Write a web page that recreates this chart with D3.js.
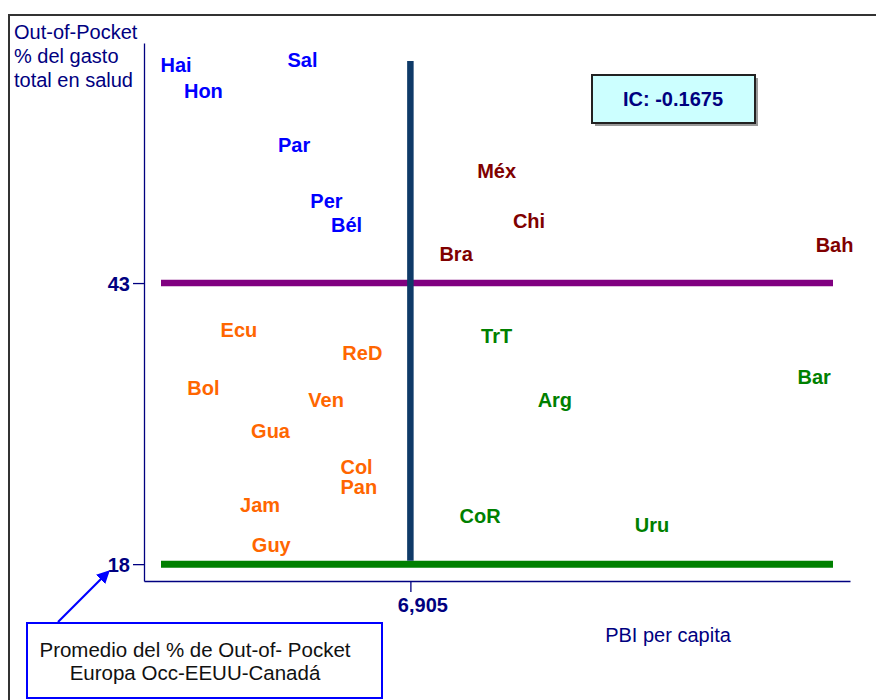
<!DOCTYPE html>
<html>
<head>
<meta charset="utf-8">
<script src="https://cdn.jsdelivr.net/npm/d3@7"></script>
<style>
  body { margin: 0; background: #fff; }
  svg { font-family: "Liberation Sans", Arial, sans-serif; }
</style>
</head>
<body>
<div id="chart"></div>
<script>
// country labels, GDP per capita and out-of-pocket share
const countries = ["Hai", "Hon", "Sal", "Par", "Per", "Bél",
  "Méx", "Chi", "Bra", "Bah",
  "Ecu", "ReD", "Bol", "Ven", "Gua", "Col", "Pan", "Jam", "Guy",
  "TrT", "Bar", "Arg", "CoR", "Uru"];
const pbi = [830, 1540, 4110, 3890, 4730, 5250,
  9140, 9980, 8090, 17900,
  2460, 5660, 1540, 4720, 3280, 5510, 5570, 3010, 3300,
  9140, 17370, 10650, 8710, 13170];
const oop = [62.4, 60.1, 62.8, 55.3, 50.3, 48.2,
  53.0, 48.5, 45.6, 46.4,
  38.8, 36.8, 33.7, 32.6, 29.8, 26.6, 24.9, 23.3, 19.7,
  38.3, 34.6, 32.6, 22.3, 21.5];

const pbiRef = 6905;       // vertical reference
const oopRef = 43;         // horizontal reference (purple)
const euroAvg = 18;        // Europa Occ-EEUU-Canadá average (green)
const icValue = -0.1675;

const quadColors = {
  highPoor: "#0000ff",
  highRich: "#800000",
  lowPoor: "#ff6600",
  lowRich: "#008000"
};

const width = 876, height = 700;
const margin = {left: 144, right: 26, top: 43, bottom: 119};

const svg = d3.select("#chart").append("svg")
  .attr("width", width)
  .attr("height", height);

// outer frame
svg.append("rect")
  .attr("x", 9).attr("y", 15)
  .attr("width", width).attr("height", height)
  .attr("fill", "none")
  .attr("stroke", "#333")
  .attr("stroke-width", 2);

const x = d3.scaleLinear()
  .domain([0, 18300])
  .range([margin.left, width - margin.right]);
const y = d3.scaleLinear()
  .domain([16.5, 64.35])
  .range([height - margin.bottom, margin.top]);

const navy = "#000080";

// axes
const yAxis = svg.append("g")
  .attr("transform", `translate(${margin.left},0)`)
  .call(d3.axisLeft(y).tickValues([euroAvg, oopRef]).tickSize(11).tickSizeOuter(0).tickFormat(d3.format("d")));
const xAxis = svg.append("g")
  .attr("transform", `translate(0,${height - margin.bottom})`)
  .call(d3.axisBottom(x).tickValues([pbiRef]).tickSize(11).tickSizeOuter(0).tickFormat(d3.format(",")));

[yAxis, xAxis].forEach((g) => {
  g.select(".domain").attr("stroke", navy).attr("stroke-width", 1.3);
  g.selectAll(".tick line").attr("stroke", navy).attr("stroke-width", 1.3);
  g.selectAll(".tick text")
    .attr("fill", navy)
    .attr("font-size", 20)
    .attr("font-weight", "bold");
});
yAxis.selectAll(".tick text").attr("x", -14).attr("dy", "0.35em");
xAxis.selectAll(".tick text").attr("x", 12).attr("y", 17);

// reference lines
const lineX0 = x.range()[0] + 17, lineX1 = x.range()[1] - 17;
svg.append("line")
  .attr("x1", lineX0).attr("x2", lineX1)
  .attr("y1", y(oopRef)).attr("y2", y(oopRef))
  .attr("stroke", "#800080").attr("stroke-width", 6.5);
svg.append("line")
  .attr("x1", lineX0).attr("x2", lineX1)
  .attr("y1", y(euroAvg)).attr("y2", y(euroAvg))
  .attr("stroke", "#008000").attr("stroke-width", 7);
svg.append("line")
  .attr("x1", x(pbiRef)).attr("x2", x(pbiRef))
  .attr("y1", y(62.75)).attr("y2", y(euroAvg) - 3.5)
  .attr("stroke", "#0f3a68").attr("stroke-width", 6.5);

// country labels
const pts = countries.map((c, i) => ({name: c, pbi: pbi[i], oop: oop[i]}));
const colorOf = (d) => {
  if (d.oop >= oopRef) { return d.pbi < pbiRef ? quadColors.highPoor : quadColors.highRich; }
  return d.pbi < pbiRef ? quadColors.lowPoor : quadColors.lowRich;
};
svg.append("g")
  .selectAll("text")
  .data(pts)
  .join("text")
  .attr("x", (d) => x(d.pbi))
  .attr("y", (d) => y(d.oop))
  .attr("dy", "0.35em")
  .attr("text-anchor", "middle")
  .attr("font-size", 20)
  .attr("font-weight", "bold")
  .attr("fill", colorOf)
  .text((d) => d.name);

// axis titles
svg.append("text")
  .attr("x", 14).attr("y", 39)
  .attr("fill", navy).attr("font-size", 20)
  .selectAll("tspan")
  .data(["Out-of-Pocket", "% del gasto", "total en salud"])
  .join("tspan")
  .attr("x", 14)
  .attr("dy", (d, i) => (i === 0 ? 0 : 24))
  .text((d) => d);
svg.append("text")
  .attr("x", 668).attr("y", 642)
  .attr("text-anchor", "middle")
  .attr("fill", navy).attr("font-size", 20)
  .text("PBI per capita");

// IC box
svg.append("rect")
  .attr("x", 595).attr("y", 78).attr("width", 163).attr("height", 48)
  .attr("fill", "#999");
svg.append("rect")
  .attr("x", 592).attr("y", 75).attr("width", 163).attr("height", 48)
  .attr("fill", "#ccffff").attr("stroke", "#222").attr("stroke-width", 2);
svg.append("text")
  .attr("x", 673).attr("y", 106)
  .attr("text-anchor", "middle")
  .attr("fill", navy).attr("font-size", 20).attr("font-weight", "bold")
  .text(`IC: ${icValue}`);

// note box with arrow pointing to the 18 tick
svg.append("defs").append("marker")
  .attr("id", "arrow")
  .attr("viewBox", "0 0 10 10")
  .attr("refX", 8).attr("refY", 5)
  .attr("markerWidth", 6).attr("markerHeight", 6)
  .attr("orient", "auto")
  .append("path")
  .attr("d", "M0,0L10,5L0,10z")
  .attr("fill", "#0000ff");
svg.append("line")
  .attr("x1", 58).attr("y1", 622)
  .attr("x2", 108).attr("y2", 572)
  .attr("stroke", "#0000ff").attr("stroke-width", 2.2)
  .attr("marker-end", "url(#arrow)");
svg.append("rect")
  .attr("x", 27).attr("y", 623).attr("width", 355).attr("height", 75)
  .attr("fill", "#fff").attr("stroke", "#0000ff").attr("stroke-width", 2);
svg.append("text")
  .attr("y", 657)
  .attr("text-anchor", "middle")
  .attr("fill", "#111").attr("font-size", 20.5)
  .selectAll("tspan")
  .data(["Promedio del % de Out-of- Pocket", "Europa Occ-EEUU-Canadá"])
  .join("tspan")
  .attr("x", 195)
  .attr("dy", (d, i) => (i === 0 ? 0 : 23))
  .text((d) => d);
</script>
</body>
</html>
